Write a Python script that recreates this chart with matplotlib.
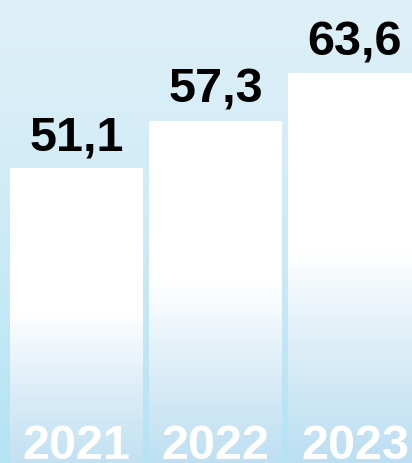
import numpy as np
import matplotlib.pyplot as plt
from matplotlib.colors import LinearSegmentedColormap

# Data
years = ["2021", "2022", "2023"]
values = [51.1, 57.3, 63.6]
value_labels = ["51,1", "57,3", "63,6"]

# Colours
bg_cmap = LinearSegmentedColormap.from_list(
    "bg", [(0.0, "#b4e3f4"), (0.6, "#d2ecf7"), (1.0, "#dff0f8")])
bar_cmap = LinearSegmentedColormap.from_list(
    "barfill", [(0.0, "#a8d5ef"), (0.2, "#bcdff2"), (0.35, "#d0e8f5"),
                (0.5, "#e8f3fa"), (0.63, "#ffffff"), (1.0, "#ffffff")])

fig = plt.figure(figsize=(4.12, 4.63), dpi=100)
ax = fig.add_axes([0, 0, 1, 1])
ax.axis("off")

# Background gradient
grad = np.linspace(0, 1, 256).reshape(-1, 1)
ax.imshow(grad, cmap=bg_cmap, extent=[-0.55, 2.41, 12.36, 73.24],
          origin="lower", aspect="auto", zorder=0)

width = 0.955
x = np.arange(len(years))
for xi, v, lab, yr in zip(x, values, value_labels, years):
    ax.imshow(grad, cmap=bar_cmap, extent=[xi - width / 2, xi + width / 2, 0, v],
              origin="lower", aspect="auto", zorder=1)
    ax.text(xi, v + 2.4, lab, ha="center", va="baseline", fontsize=35,
            fontweight="bold", family="Liberation Sans", color="black", zorder=3)
    ax.text(xi, 12.9, yr, ha="center", va="baseline", fontsize=35,
            fontweight="bold", family="Liberation Sans", color="white", zorder=3)

ax.set_xlim(-0.55, 2.41)
ax.set_ylim(12.36, 73.24)

fig.savefig("out.png", dpi=100)
